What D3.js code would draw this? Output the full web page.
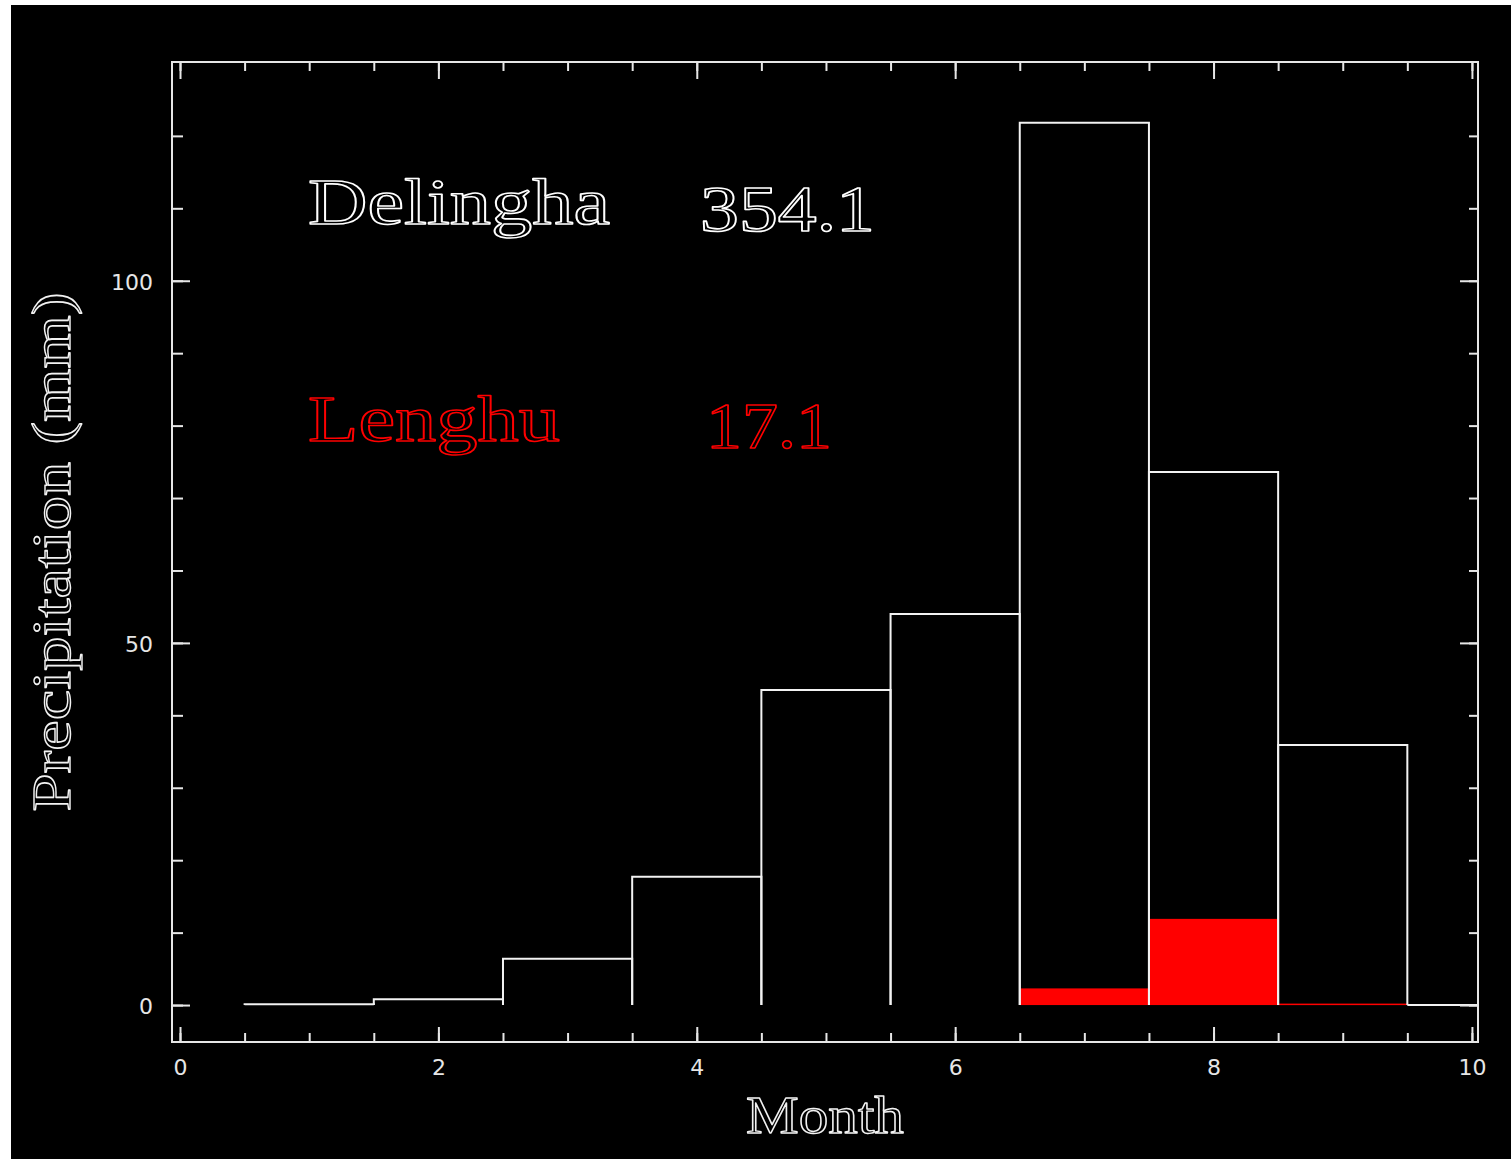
<!DOCTYPE html>
<html>
<head>
<meta charset="utf-8">
<script src="https://cdn.jsdelivr.net/npm/d3@7"></script>
<style>
html,body{margin:0;padding:0;background:#fff;}
svg{display:block;}
</style>
</head>
<body>
<svg id="chart" width="1511" height="1159"></svg>
<script>
// Data
const months = [1, 2, 3, 4, 5, 6, 7, 8, 9, 10];
const delingha = [0.1, 0.8, 6.4, 17.7, 43.5, 54.0, 121.8, 73.6, 35.9, 0];
const lenghu = [0, 0, 0, 0, 0, 0, 2.3, 11.9, 0.2, 0];
const legendNames = ["Delingha", "Lenghu"];
const legendTotals = ["354.1", "17.1"];
const xTicks = [0, 2, 4, 6, 8, 10];
const yTicks = [0, 50, 100];
const xLabel = "Month";
const yLabel = "Precipitation (mm)";

const svg = d3.select("#chart");
// black panel
svg.append("rect").attr("x", 11).attr("y", 5).attr("width", 1500).attr("height", 1154).attr("fill", "#000");

const L = 172, T = 62, R = 1478, B = 1042;
const x = d3.scaleLinear().domain([-0.062, 10.047]).range([L, R]);
const y = d3.scaleLinear().domain([-5.1, 130.2]).range([B, T]);

svg.append("clipPath").attr("id", "plotclip")
  .append("rect").attr("x", L).attr("y", T).attr("width", R - L).attr("height", B - T);

const plot = svg.append("g").attr("clip-path", "url(#plotclip)");

// Lenghu red fills
plot.selectAll("rect.len").data(months.map((m, i) => ({m, v: lenghu[i]})).filter(d => d.v > 0))
  .enter().append("rect")
  .attr("x", d => x(d.m - 0.5))
  .attr("width", d => x(d.m + 0.5) - x(d.m - 0.5))
  .attr("y", d => y(d.v))
  .attr("height", d => Math.max(1.5, y(0) - y(d.v)))
  .attr("fill", "#ff0000");

// Delingha outlines
plot.selectAll("path.del").data(months.map((m, i) => ({m, v: delingha[i]})))
  .enter().append("path")
  .attr("d", d => `M${x(d.m - 0.5)},${y(0)}V${y(d.v)}H${x(d.m + 0.5)}V${y(0)}`)
  .attr("fill", "none")
  .attr("stroke", "#f2f2f2")
  .attr("stroke-width", 2);

// Frame
svg.append("rect").attr("x", L).attr("y", T).attr("width", R - L).attr("height", B - T)
  .attr("fill", "none").attr("stroke", "#e6e6e6").attr("stroke-width", 2);

const tickCol = "#e6e6e6";
const xMinor = d3.range(0, 10.01, 0.5);
const gxb = svg.append("g").attr("transform", `translate(0,${B})`).call(d3.axisBottom(x).tickValues(xMinor).tickSizeInner(-9).tickSizeOuter(0).tickFormat(""));
const gxt = svg.append("g").attr("transform", `translate(0,${T})`).call(d3.axisTop(x).tickValues(xMinor).tickSizeInner(-9).tickSizeOuter(0).tickFormat(""));
const gxbM = svg.append("g").attr("transform", `translate(0,${B})`).call(d3.axisBottom(x).tickValues(xTicks).tickSizeInner(-15).tickSizeOuter(0));
const gxtM = svg.append("g").attr("transform", `translate(0,${T})`).call(d3.axisTop(x).tickValues(xTicks).tickSizeInner(-17).tickSizeOuter(0).tickFormat(""));

const yMinor = d3.range(0, 130, 10);
const gyl = svg.append("g").attr("transform", `translate(${L},0)`).call(d3.axisLeft(y).tickValues(yMinor).tickSizeInner(-11).tickSizeOuter(0).tickFormat(""));
const gyr = svg.append("g").attr("transform", `translate(${R},0)`).call(d3.axisRight(y).tickValues(yMinor).tickSizeInner(-9).tickSizeOuter(0).tickFormat(""));
const gylM = svg.append("g").attr("transform", `translate(${L},0)`).call(d3.axisLeft(y).tickValues(yTicks).tickSizeInner(-18).tickSizeOuter(0));
const gyrM = svg.append("g").attr("transform", `translate(${R},0)`).call(d3.axisRight(y).tickValues(yTicks).tickSizeInner(-18).tickSizeOuter(0).tickFormat(""));

[gxb, gxt, gxbM, gxtM, gyl, gyr, gylM, gyrM].forEach(g => {
  g.select(".domain").remove();
  g.selectAll(".tick line").attr("stroke", tickCol).attr("stroke-width", 2);
  g.selectAll(".tick text").attr("fill", "#e6e6e6")
    .style("font-family", "'DejaVu Sans', sans-serif").style("font-size", "22px");
});
gxbM.selectAll(".tick text").attr("dy", "0.71em").attr("y", 17);
gylM.selectAll(".tick text").attr("x", -19).attr("dy", "0.4em");

// outlined text helper (mimics stroked vector font)
function outlined(sel, color, sw) {
  return sel.attr("fill", "none").attr("stroke", color).attr("stroke-width", sw)
    .attr("stroke-linejoin", "round");
}

// Axis titles
outlined(svg.append("text").attr("x", (L + R) / 2).attr("y", 1133)
  .attr("text-anchor", "middle")
  .style("font-family", "'Liberation Serif', serif").style("font-size", "53px")
  .attr("textLength", 158).attr("lengthAdjust", "spacingAndGlyphs")
  .text(xLabel), "#f2f2f2", 1.4);

outlined(svg.append("text").attr("transform", `translate(70,552) rotate(-90)`)
  .attr("text-anchor", "middle")
  .style("font-family", "'Liberation Serif', serif").style("font-size", "54px")
  .attr("textLength", 519).attr("lengthAdjust", "spacingAndGlyphs")
  .text(yLabel), "#f2f2f2", 1.4);

// Legend texts
const legColors = ["#ffffff", "#ff0000"];
const nameY = [224, 441];
const nameW = [302, 252];
const totY = [231, 448];
const totX = [700, 706];
const totW = [175, 126];
legendNames.forEach((n, i) => {
  outlined(svg.append("text").attr("x", 308).attr("y", nameY[i])
    .style("font-family", "'Liberation Serif', serif").style("font-size", "66px")
    .attr("textLength", nameW[i]).attr("lengthAdjust", "spacingAndGlyphs")
    .text(n), legColors[i], 1.6);
  outlined(svg.append("text").attr("x", totX[i]).attr("y", totY[i])
    .style("font-family", "'Liberation Serif', serif").style("font-size", "66px")
    .attr("textLength", totW[i]).attr("lengthAdjust", "spacingAndGlyphs")
    .text(legendTotals[i]), legColors[i], 1.6);
});
</script>
</body>
</html>
